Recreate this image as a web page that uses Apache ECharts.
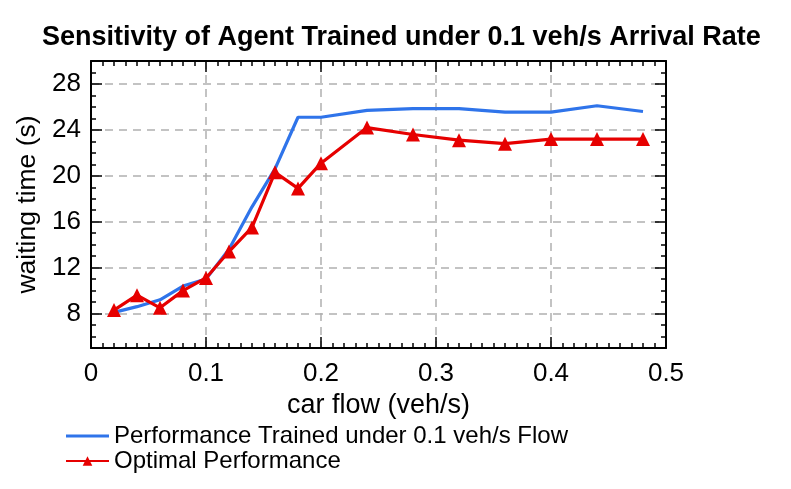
<!DOCTYPE html>
<html>
  <head>
    <meta charset="utf-8" />
    <title>Sensitivity chart</title>
    <script src="https://cdn.jsdelivr.net/npm/echarts@6/dist/echarts.min.js"></script>
    <style>
      html, body { margin: 0; padding: 0; background: #fff; }
      #chart { width: 791px; height: 489px; }
    </style>
  </head>
  <body>
    <div id="chart"></div>
    <script type="text/javascript">
      // values
      const carFlow = [0.02, 0.04, 0.06, 0.08, 0.1, 0.12, 0.14, 0.16, 0.18, 0.2, 0.24, 0.28, 0.32, 0.36, 0.4, 0.44, 0.48];
      const trainedWait = [8.1, 8.6, 9.2, 10.4, 11.0, 13.6, 17.3, 20.6, 25.1, 25.1, 25.7, 25.85, 25.85, 25.55, 25.55, 26.1, 25.6];
      const optimalWait = [8.3, 9.6, 8.5, 10.0, 11.1, 13.4, 15.5, 20.3, 18.9, 21.1, 24.2, 23.6, 23.1, 22.8, 23.2, 23.2, 23.2];
      const yTickLabels = [8, 12, 16, 20, 24, 28];
      const yMinorTicks = [6, 7, 9, 10, 11, 13, 14, 15, 17, 18, 19, 21, 22, 23, 25, 26, 27, 29];

      const FONT = "'Liberation Sans', Arial, Helvetica, sans-serif";
      const gridDash = { color: '#b0b0b0', width: 1.5, type: [8, 6] };

      function xAxisDef(pos, withLabels) {
        return {
          type: 'value',
          position: pos,
          min: 0,
          max: 0.5,
          interval: 0.1,
          name: withLabels ? 'car flow (veh/s)' : '',
          nameLocation: 'middle',
          nameGap: 43,
          nameTextStyle: { fontFamily: FONT, fontSize: 27, color: '#000' },
          axisLine: { show: true, onZero: false, lineStyle: { color: '#000', width: 2 } },
          axisTick: { show: true, inside: true, length: 11, lineStyle: { color: '#000', width: 1.5 } },
          minorTick: { show: true, splitNumber: 10, length: 5, lineStyle: { color: '#000', width: 1.5 } },
          axisLabel: { show: withLabels, fontFamily: FONT, fontSize: 26, color: '#000', margin: 13 },
          splitLine: { show: withLabels, lineStyle: gridDash },
          minorSplitLine: { show: false }
        };
      }

      function yAxisDef(pos, major, withLabels) {
        return {
          type: 'value',
          position: pos,
          min: 5,
          max: 30,
          name: withLabels ? 'waiting time (s)' : '',
          nameLocation: 'middle',
          nameGap: 42,
          nameTextStyle: { fontFamily: FONT, fontSize: 26.5, color: '#000' },
          axisLine: { show: major, onZero: false, lineStyle: { color: '#000', width: 2 } },
          axisTick: {
            show: true, inside: true, length: major ? 11 : 5,
            customValues: major ? yTickLabels : yMinorTicks,
            lineStyle: { color: '#000', width: 1.5 }
          },
          axisLabel: {
            show: withLabels, fontFamily: FONT, fontSize: 26, color: '#000', margin: 10,
            customValues: yTickLabels
          },
          splitLine: { show: withLabels, lineStyle: gridDash }
        };
      }

      const chart = echarts.init(document.getElementById('chart'), null, { renderer: 'canvas' });
      chart.setOption({
        animation: false,
        backgroundColor: '#fff',
        title: {
          text: 'Sensitivity of Agent Trained under 0.1 veh/s Arrival Rate',
          left: 42,
          top: 24,
          padding: 0,
          textStyle: { fontFamily: FONT, fontSize: 27, fontWeight: 'bold', color: '#000' }
        },
        grid: { left: 91, right: 125, top: 61, bottom: 141, containLabel: false },
        legend: {
          orient: 'vertical',
          left: 65,
          top: 424,
          padding: 0,
          itemWidth: 43,
          itemHeight: 12,
          itemGap: 1,
          textStyle: { fontFamily: FONT, fontSize: 24, color: '#000', lineHeight: 24 },
          data: [
            { name: 'Performance Trained under 0.1 veh/s Flow', icon: 'path://M0,0 L43,0 L43,3 L0,3 Z' },
            { name: 'Optimal Performance' }
          ]
        },
        xAxis: [xAxisDef('bottom', true), xAxisDef('top', false)],
        yAxis: [
          yAxisDef('left', true, true),
          yAxisDef('left', false, false),
          yAxisDef('right', true, false),
          yAxisDef('right', false, false)
        ],
        series: [
          {
            name: 'Performance Trained under 0.1 veh/s Flow',
            type: 'line',
            data: carFlow.map((x, i) => [x, trainedWait[i]]),
            symbol: 'none',
            lineStyle: { color: '#2f74ea', width: 3.2 },
            itemStyle: { color: '#2f74ea' },
            z: 3
          },
          {
            name: 'Optimal Performance',
            type: 'line',
            data: carFlow.map((x, i) => [x, optimalWait[i]]),
            symbol: 'triangle',
            symbolSize: 14,
            lineStyle: { color: '#e60000', width: 3.2 },
            itemStyle: { color: '#e60000' },
            z: 4
          }
        ]
      });
    </script>
  </body>
</html>
